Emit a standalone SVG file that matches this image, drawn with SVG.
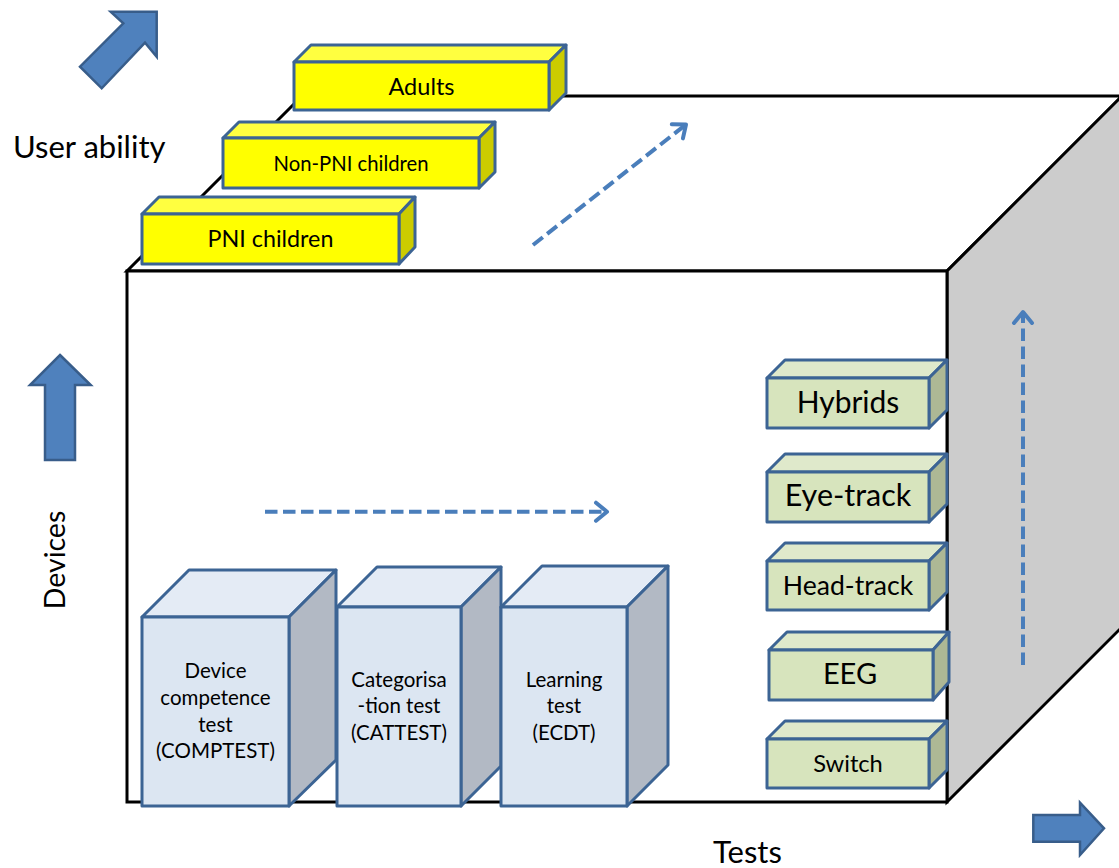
<svg xmlns="http://www.w3.org/2000/svg" width="1119" height="868" viewBox="0 0 1119 868">
  <style>
    .edge { stroke: #000; stroke-width: 3; stroke-linejoin: miter; }
    .bigarrow { fill: #4F81BD; stroke: #385D8A; stroke-width: 2.5; stroke-linejoin: miter; }
    .dash { fill: none; stroke: #4A7EBB; stroke-width: 4; stroke-dasharray: 12.5 5.5; }
    .box { stroke: #3C6494; stroke-width: 3; stroke-linejoin: round; }
    .y-front { fill: #FFFF00; } .y-top { fill: #FFFF40; } .y-side { fill: #CCCC00; }
    .b-front { fill: #DCE6F2; } .b-top { fill: #E4EBF5; } .b-side { fill: #B2B9C4; }
    .g-front { fill: #D7E4BD; } .g-top { fill: #DFE9CB; } .g-side { fill: #ADB895; }
    text { font-family: Lato, "Noto Sans", "Liberation Sans", sans-serif; fill: #000; }
    .c { text-anchor: middle; }
    .t { font-size: 20.5px; }
  </style>
  <defs>
    <marker id="open" markerUnits="userSpaceOnUse" markerWidth="30" markerHeight="30" refX="0" refY="0" viewBox="-15 -15 30 30" orient="auto">
      <path d="M-11,-9 L0,0 L-11,9" fill="none" stroke="#4A7EBB" stroke-width="4" stroke-linecap="round" stroke-linejoin="round"/>
    </marker>
  </defs>

  <rect width="1119" height="868" fill="#fff"/>

  <!-- the big cube: top face, right face, front face -->
  <g id="cube">
    <polygon points="127,271 302,96 1122,96 947,271" fill="#fff" class="edge"/>
    <polygon points="947,271 1122,96 1122,627 947,802" fill="#CCCCCC" class="edge"/>
    <rect x="127" y="271" width="820" height="531" fill="#fff" class="edge"/>
  </g>

  <!-- axis arrows -->
  <g id="arrow-user-ability">
    <polygon class="bigarrow" points="110.7,11.7 156.7,11.7 156.7,56.7 145,42.7 101.7,88.3 80,66.7 123.3,23.3"/>
  </g>
  <g id="arrow-devices">
    <polygon class="bigarrow" points="60,355 90.7,385 75,385 75,460 45,460 45,385 30,385"/>
  </g>
  <g id="arrow-tests">
    <polygon class="bigarrow" points="1033.3,815 1080,815 1080,802.7 1104,828.3 1080,855 1080,841.7 1033.3,841.7"/>
  </g>

  <!-- axis labels -->
  <text id="label-user-ability" x="13" y="158" font-size="31">User ability</text>
  <text id="label-devices" transform="translate(64.5,560) rotate(-90)" class="c" font-size="28.5">Devices</text>
  <text id="label-tests" x="713" y="862.7" font-size="31">Tests</text>

  <!-- dashed direction connectors -->
  <g id="connectors">
    <line class="dash" x1="533" y1="245" x2="686" y2="124.5" marker-end="url(#open)"/>
    <line class="dash" x1="265" y1="511.7" x2="607" y2="511.7" marker-end="url(#open)"/>
    <line class="dash" x1="1023" y1="665" x2="1023" y2="312" marker-end="url(#open)"/>
  </g>

  <!-- user ability steps -->
  <g id="node-adults">
    <polygon class="box y-top" points="294,62 311,45 566,45 549,62"/>
    <polygon class="box y-side" points="549,62 566,45 566,93 549,110"/>
    <rect class="box y-front" x="294" y="62" width="255" height="48"/>
    <text class="c" x="421.5" y="95" font-size="23.5">Adults</text>
  </g>
  <g id="node-non-pni">
    <polygon class="box y-top" points="223,138 239,122 495,122 479,138"/>
    <polygon class="box y-side" points="479,138 495,122 495,172 479,188"/>
    <rect class="box y-front" x="223" y="138" width="256" height="50"/>
    <text class="c" x="351" y="171" font-size="20.3">Non-PNI children</text>
  </g>
  <g id="node-pni">
    <polygon class="box y-top" points="142,214 159,197 415,197 399,214"/>
    <polygon class="box y-side" points="399,214 415,197 415,247 399,264"/>
    <rect class="box y-front" x="142" y="214" width="257" height="50"/>
    <text class="c" x="270.5" y="246.7" font-size="23.3">PNI children</text>
  </g>

  <!-- devices -->
  <g id="node-hybrids">
    <polygon class="box g-top" points="767,378 785,360 947,360 929,378"/>
    <polygon class="box g-side" points="929,378 947,360 947,410 929,428"/>
    <rect class="box g-front" x="767" y="378" width="162" height="50"/>
    <text class="c" x="848" y="413" font-size="30">Hybrids</text>
  </g>
  <g id="node-eye-track">
    <polygon class="box g-top" points="767,472 785,454 947,454 929,472"/>
    <polygon class="box g-side" points="929,472 947,454 947,504 929,522"/>
    <rect class="box g-front" x="767" y="472" width="162" height="50"/>
    <text class="c" x="848" y="506" font-size="30.5">Eye-track</text>
  </g>
  <g id="node-head-track">
    <polygon class="box g-top" points="767,561 785,543 947,543 929,561"/>
    <polygon class="box g-side" points="929,561 947,543 947,592 929,610"/>
    <rect class="box g-front" x="767" y="561" width="162" height="49"/>
    <text class="c" x="848" y="595" font-size="26.6">Head-track</text>
  </g>
  <g id="node-eeg">
    <polygon class="box g-top" points="769,650 787,632 949,632 933,650"/>
    <polygon class="box g-side" points="933,650 949,632 949,682 933,700"/>
    <rect class="box g-front" x="769" y="650" width="164" height="50"/>
    <text class="c" x="850" y="684" font-size="29">EEG</text>
  </g>
  <g id="node-switch">
    <polygon class="box g-top" points="767,739 785,721 947,721 929,739"/>
    <polygon class="box g-side" points="929,739 947,721 947,770 929,788"/>
    <rect class="box g-front" x="767" y="739" width="162" height="49"/>
    <text class="c" x="848" y="771.7" font-size="23.7">Switch</text>
  </g>

  <!-- tests -->
  <g id="node-comptest">
    <polygon class="box b-top" points="142,617 189,570 336,570 289,617"/>
    <polygon class="box b-side" points="289,617 336,570 336,760 289,806"/>
    <rect class="box b-front" x="142" y="617" width="147" height="189"/>
    <text class="c t" x="215.5" y="678">Device</text>
    <text class="c t" x="215.5" y="705">competence</text>
    <text class="c t" x="215.5" y="731.7">test</text>
    <text class="c t" x="215.5" y="758">(COMPTEST)</text>
  </g>
  <g id="node-cattest">
    <polygon class="box b-top" points="337,607 377,567 501,567 461,607"/>
    <polygon class="box b-side" points="461,607 501,567 501,766 461,806"/>
    <rect class="box b-front" x="337" y="607" width="124" height="199"/>
    <text class="c t" x="399" y="686.7">Categorisa</text>
    <text class="c t" x="399" y="713">-tion test</text>
    <text class="c t" x="399" y="740">(CATTEST)</text>
  </g>
  <g id="node-ecdt">
    <polygon class="box b-top" points="501,607 542,566 668,566 627,607"/>
    <polygon class="box b-side" points="627,607 668,566 668,765 627,806"/>
    <rect class="box b-front" x="501" y="607" width="126" height="199"/>
    <text class="c t" x="564" y="686.7">Learning</text>
    <text class="c t" x="564" y="713">test</text>
    <text class="c t" x="564" y="740">(ECDT)</text>
  </g>
</svg>
